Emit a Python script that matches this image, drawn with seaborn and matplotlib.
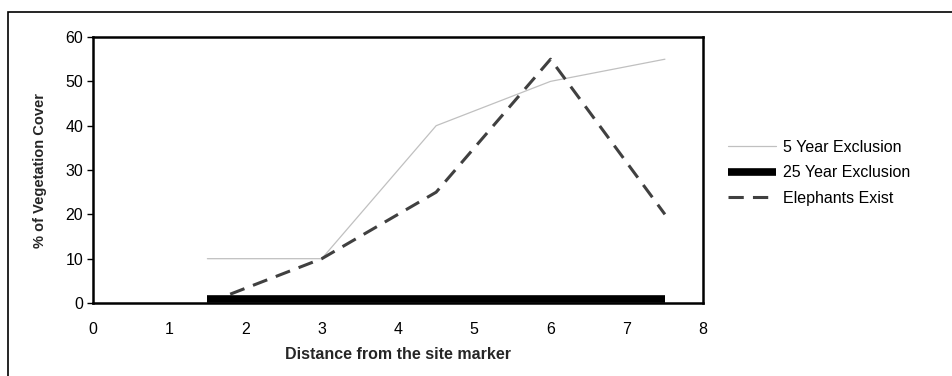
import matplotlib
matplotlib.use("Agg")
import matplotlib.pyplot as plt
import seaborn as sns
from matplotlib.patches import Rectangle

sns.set_theme(style="white")
plt.rcParams["font.family"] = ["Liberation Sans", "DejaVu Sans"]

distance = [1.5, 3, 4.5, 6, 7.5]
five_year = [10, 10, 40, 50, 55]
twenty_five_year = [1, 1, 1, 1, 1]
elephants = [0, 10, 25, 55, 20]

x_ticks = [0, 1, 2, 3, 4, 5, 6, 7, 8]
y_ticks = [0, 10, 20, 30, 40, 50, 60]

fig = plt.figure(figsize=(9.52, 3.76), dpi=100)
ax = fig.add_axes([0.0977, 0.1941, 0.6408, 0.7074])

sns.lineplot(x=distance, y=five_year, ax=ax, color="#c0c0c0", linewidth=0.9,
             label="5 Year Exclusion", zorder=2)
sns.lineplot(x=distance, y=twenty_five_year, ax=ax, color="black", linewidth=5.5,
             label="25 Year Exclusion", solid_capstyle="butt", zorder=4)
sns.lineplot(x=distance, y=elephants, ax=ax, color="#404040", linewidth=2.2,
             label="Elephants Exist", zorder=3)
ax.lines[2].set_dashes((5, 3))

ax.set_xlim(0, 8)
ax.set_ylim(0, 60)
ax.set_xticks(x_ticks)
ax.set_yticks(y_ticks)
ax.tick_params(axis="both", labelsize=11.5, colors="black")
ax.tick_params(axis="y", left=True, length=4, width=1, direction="out", pad=3)
ax.tick_params(axis="x", bottom=False, pad=8)
for s in ax.spines.values():
    s.set_color("black")
    s.set_linewidth(1.8)

ax.set_xlabel("Distance from the site marker", fontsize=11.5, fontweight="bold", labelpad=7)
ax.set_ylabel("% of Vegetation Cover", fontsize=10.5, fontweight="bold", labelpad=13)

leg = ax.legend(loc="center left", bbox_to_anchor=(0.765, 0.54), bbox_transform=fig.transFigure,
                frameon=False, fontsize=11.5, handlelength=3.0, handletextpad=0.4,
                labelspacing=0.66, borderaxespad=0, borderpad=0)
for t in leg.get_texts():
    t.set_color("black")

fig.patches.append(Rectangle((8 / 952, -0.1), 1.0, 1 - 12 / 376 + 0.1, transform=fig.transFigure,
                             fill=False, edgecolor="black", linewidth=1.2))

fig.savefig("out.png", dpi=100)
